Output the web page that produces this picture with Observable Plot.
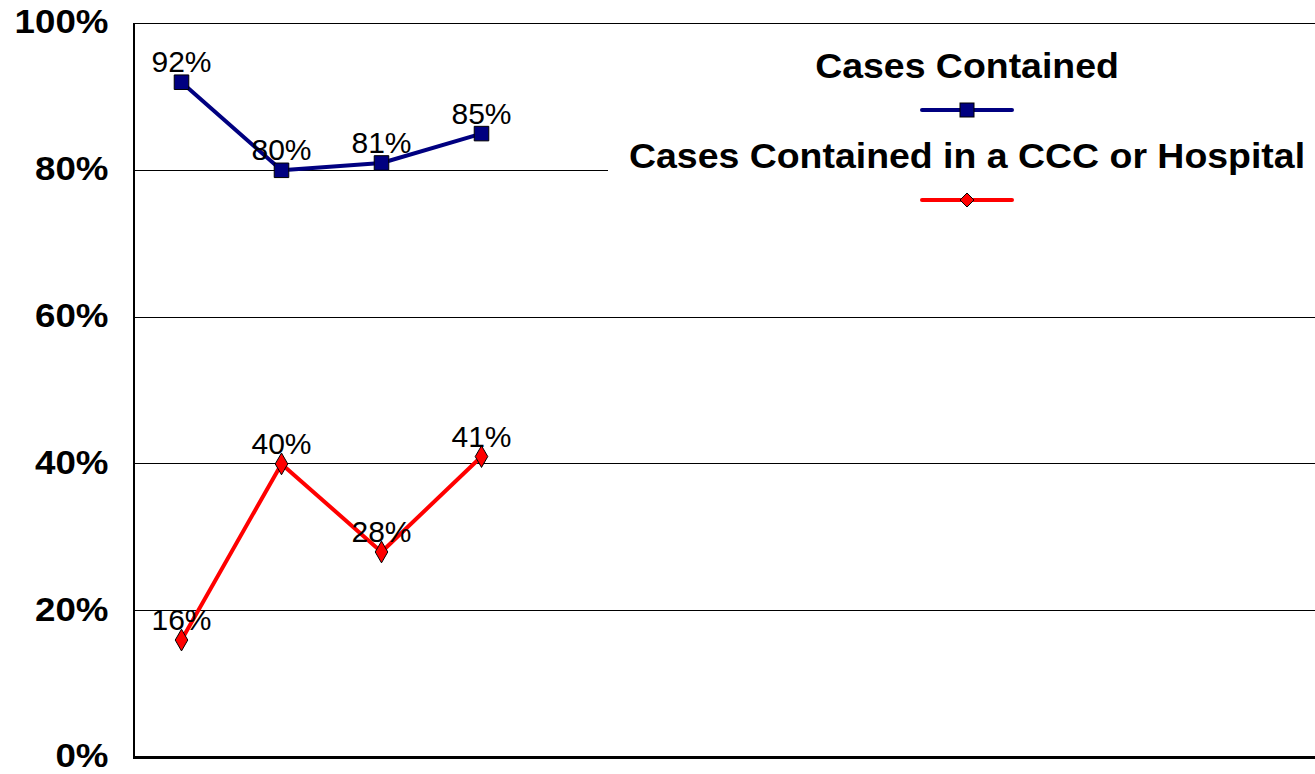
<!DOCTYPE html>
<html>
<head>
<meta charset="utf-8">
<script src="https://cdn.jsdelivr.net/npm/d3@7"></script>
<script src="https://cdn.jsdelivr.net/npm/@observablehq/plot@0.6"></script>
<style>
  html, body { margin: 0; padding: 0; background: #fff; overflow: hidden; }
  #wrap { position: relative; width: 1315px; height: 774px; }
  #legend { position: absolute; left: 608px; top: 30px; background: #fff; }
  text { font-family: "Liberation Sans", Arial, sans-serif; }
</style>
</head>
<body>
<div id="wrap"></div>
<script>
// ---- data ----
const periods = [1, 2, 3, 4];
const casesContained = [92, 80, 81, 85];
const casesContainedCCC = [16, 40, 28, 41];
const seriesNames = ["Cases Contained", "Cases Contained in a CCC or Hospital"];
const seriesColors = ["#000080", "#FF0000"];
const seriesSymbols = ["square", "diamond"];
const yTicks = [0, 20, 40, 60, 80, 100];
const xDomain = [0.52, 12.34];

const rows = [];
periods.forEach((p, i) => rows.push({period: p, value: casesContained[i], series: seriesNames[0]}));
periods.forEach((p, i) => rows.push({period: p, value: casesContainedCCC[i], series: seriesNames[1]}));

const font = '"Liberation Sans", Arial, sans-serif';

const plot = Plot.plot({
  width: 1315,
  height: 774,
  marginTop: 23,
  marginBottom: 17,
  marginLeft: 133,
  marginRight: 0,
  style: {fontFamily: font, background: "#fff", overflow: "visible"},
  x: {domain: xDomain, axis: null},
  y: {domain: [0, 100]},
  color: {domain: seriesNames, range: seriesColors},
  symbol: {domain: seriesNames, range: seriesSymbols},
  marks: [
    Plot.ruleY(yTicks.filter(d => d > 0), {stroke: "#000", strokeWidth: 1, shapeRendering: "crispEdges"}),
    Plot.ruleY([0], {stroke: "#000", strokeWidth: 3, shapeRendering: "crispEdges"}),
    Plot.ruleX([xDomain[0]], {stroke: "#000", strokeWidth: 2, shapeRendering: "crispEdges"}),
    Plot.axisY({
      ticks: yTicks, tickSize: 0, tickPadding: 25, dy: -1,
      tickFormat: d => d + "%", fontSize: 34, fontWeight: "bold",
      fill: "#000", label: null
    }),
    Plot.line(rows, {x: "period", y: "value", z: "series", stroke: "series", strokeWidth: 4, strokeLinejoin: "round"}),
    Plot.dot(rows.filter(d => d.series === seriesNames[0]), {
      x: "period", y: "value", symbol: "series", fill: "series", r: 8.2, stroke: "#000", strokeWidth: 1
    }),
    Plot.dot(rows.filter(d => d.series === seriesNames[1]), {
      x: "period", y: "value", symbol: "series", fill: "series", r: 6.6, stroke: "#000", strokeWidth: 1
    }),
    Plot.text(rows, {
      x: "period", y: "value", text: d => d.value + "%",
      lineAnchor: "bottom", dy: -10, fontSize: 30, fill: "#000"
    })
  ]
});

// slight horizontal stretch of bold axis labels, as in the reference
plot.querySelectorAll('g[aria-label="y-axis tick label"] text').forEach(t => {
  const tr = t.getAttribute("transform") || "";
  t.setAttribute("transform", tr + " scale(1.08,1)");
});

const wrap = document.getElementById("wrap");
wrap.appendChild(plot);

// ---- legend (overlay box inside plot area) ----
const lw = 707, lh = 185, cx = 359;
const legend = d3.select(wrap).append("svg")
  .attr("id", "legend")
  .attr("width", lw).attr("height", lh);
legend.append("rect").attr("width", lw).attr("height", lh).attr("fill", "#fff");
seriesNames.forEach((name, i) => {
  const ty = 48 + i * 90, ly = 80 + i * 90;
  legend.append("text")
    .attr("transform", `translate(${cx},${ty}) scale(1.07,1)`)
    .attr("text-anchor", "middle")
    .attr("font-size", 35).attr("font-weight", "bold")
    .attr("font-family", font)
    .attr("fill", "#000")
    .text(name);
  legend.append("line")
    .attr("x1", cx - 45).attr("x2", cx + 45)
    .attr("y1", ly).attr("y2", ly)
    .attr("stroke", seriesColors[i]).attr("stroke-width", 4).attr("stroke-linecap", "round");
  if (seriesSymbols[i] === "square") {
    legend.append("rect")
      .attr("x", cx - 7).attr("y", ly - 7).attr("width", 14).attr("height", 14)
      .attr("fill", seriesColors[i]).attr("stroke", "#000").attr("stroke-width", 1);
  } else {
    legend.append("path")
      .attr("d", `M${cx},${ly - 7}L${cx + 7},${ly}L${cx},${ly + 7}L${cx - 7},${ly}Z`)
      .attr("fill", seriesColors[i]).attr("stroke", "#000").attr("stroke-width", 1);
  }
});
</script>
</body>
</html>
